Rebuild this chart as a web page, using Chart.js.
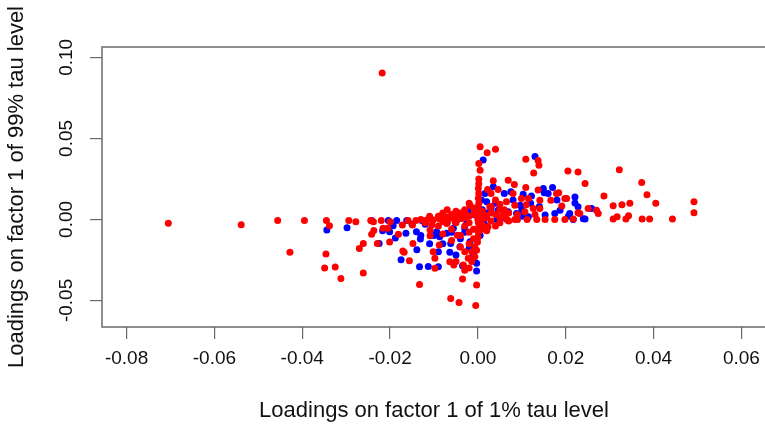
<!DOCTYPE html>
<html>
<head>
<meta charset="utf-8">
<script src="https://cdn.jsdelivr.net/npm/chart.js@4"></script>
<style>
  html, body { margin: 0; padding: 0; background: #fff; overflow: hidden; }
  #wrap { width: 770px; height: 425px; }
</style>
</head>
<body>
<div id="wrap"><canvas id="chart" width="770" height="425"></canvas></div>
<script>
// loadings: [1% tau level, 99% tau level]
const redPoints = [
  [-0.0218, 0.0904], [-0.0705, -0.0023], [-0.0539, -0.0033], [-0.0456, -0.0006],
  [-0.0395, -0.0006], [-0.0345, -0.0006], [-0.0338, -0.0039], [-0.0428, -0.0202],
  [-0.0346, -0.0214], [-0.0349, -0.0300], [-0.0325, -0.0294], [-0.0312, -0.0365],
  [-0.0261, -0.0331], [-0.0294, -0.0006], [-0.0278, -0.0015], [-0.0244, -0.0006],
  [-0.0238, -0.0015], [-0.0220, -0.0006], [-0.0200, -0.0015], [-0.0237, -0.0069],
  [-0.0242, -0.0092], [-0.0261, -0.0149], [-0.0270, -0.0180], [-0.0229, -0.0149],
  [-0.0201, -0.0140], [-0.0216, -0.0054], [-0.0205, -0.0055], [-0.0181, -0.0091],
  [-0.0172, -0.0035], [-0.0168, -0.0202], [-0.0156, -0.0255], [-0.0148, -0.0148],
  [-0.0133, -0.0401], [-0.0159, -0.0006], [-0.0149, -0.0035], [-0.0141, -0.0006],
  [-0.0171, -0.0195], [-0.0117, -0.0004], [-0.0102, -0.0004], [-0.0087, 0.0002],
  [-0.0071, -0.0025], [-0.0052, -0.0015], [-0.0037, 0.0006], [-0.0026, 0.0027],
  [-0.0018, 0.0088], [-0.0109, -0.0101], [-0.0102, -0.0200], [-0.0098, -0.0240],
  [-0.0088, -0.0158], [-0.0098, -0.0302], [-0.0064, -0.0261], [-0.0055, -0.0282],
  [-0.0033, -0.0282], [-0.0022, -0.0240], [-0.0030, -0.0313], [-0.0035, -0.0368],
  [-0.0003, -0.0405], [-0.0062, -0.0488], [-0.0043, -0.0513], [-0.0005, -0.0531],
  [-0.0014, -0.0200], [-0.0007, -0.0169], [-0.0047, -0.0097], [-0.0109, -0.0066],
  [-0.0105, -0.0035], [-0.0079, -0.0015], [-0.0003, -0.0190], [-0.0007, -0.0230],
  [-0.0014, -0.0260], [-0.0020, -0.0300],
  [0.0005, 0.0448], [0.0021, 0.0411], [0.0040, 0.0433], [0.0002, 0.0345],
  [0.0005, 0.0304], [0.0109, 0.0372], [0.0137, 0.0363], [0.0139, 0.0335],
  [0.0127, 0.0287], [0.0205, 0.0298], [0.0228, 0.0292], [0.0244, 0.0222],
  [0.0287, 0.0144], [0.0322, 0.0306], [0.0373, 0.0228], [0.0385, 0.0152],
  [0.0405, 0.0099], [0.0308, 0.0084], [0.0328, 0.0090], [0.0346, 0.0099],
  [0.0492, 0.0109], [0.0492, 0.0041], [0.0443, 0.0002], [0.0391, 0.0002],
  [0.0374, 0.0002], [0.0343, 0.0022], [0.0337, 0.0002], [0.0317, 0.0016],
  [0.0308, 0.0002], [0.0274, 0.0037], [0.0251, 0.0068], [0.0232, 0.0037],
  [0.0217, 0.0002], [0.0202, 0.0129], [0.0179, 0.0160], [0.0035, 0.0238],
  [0.0069, 0.0242], [0.0083, 0.0216], [0.0109, 0.0197], [0.0046, 0.0185],
  [0.0022, 0.0185], [0.0137, 0.0181], [0.0184, 0.0164], [0.0166, 0.0119],
  [0.0141, 0.0119], [0.0099, 0.0129], [0.0115, 0.0129], [0.0065, 0.0109],
  [0.0050, 0.0094], [0.0084, 0.0088], [0.0126, 0.0068], [0.0141, 0.0068],
  [0.0107, 0.0047], [0.0060, 0.0047], [0.0027, 0.0078], [0.0191, 0.0082],
  [0.0198, 0.0129], [0.0228, 0.0041], [0.0270, 0.0057], [0.0153, 0.0000],
  [0.0175, 0.0000], [0.0198, 0.0000], [0.0134, 0.0000], [0.0084, 0.0000],
  [0.0050, 0.0016], [-0.0020, 0.0099], [0.0016, 0.0027], [0.0023, -0.0046],
  [0.0112, 0.0000], [0.0066, 0.0000],
  [0.0002, 0.0250], [0.0002, 0.0220], [0.0001, 0.0190], [0.0002, 0.0160],
  [0.0001, 0.0130], [0.0002, 0.0100], [0.0001, 0.0080], [0.0002, 0.0060],
  [0.0001, 0.0040], [0.0002, 0.0020], [0.0001, -0.0020], [0.0002, -0.0050],
  [0.0001, -0.0080], [0.0000, -0.0110], [-0.0001, -0.0140],
  [-0.0050, -0.0020], [-0.0040, 0.0010], [-0.0030, -0.0040], [-0.0020, 0.0020],
  [-0.0010, -0.0060], [0.0010, -0.0030], [0.0020, 0.0010], [0.0030, -0.0010],
  [0.0040, 0.0030], [-0.0060, 0.0030], [-0.0070, -0.0010], [0.0050, -0.0020],
  [-0.0020, -0.0080], [0.0010, 0.0050], [0.0020, -0.0070], [-0.0040, -0.0100],
  [-0.0010, -0.0120], [0.0030, 0.0040], [-0.0080, 0.0020], [-0.0090, -0.0040],
  [0.0060, 0.0020], [0.0070, 0.0040], [-0.0050, 0.0050], [-0.0030, 0.0060],
  [-0.0060, -0.0060], [0.0010, 0.0010], [-0.0010, 0.0030], [0.0040, -0.0040],
  [-0.0080, 0.0040], [-0.0060, 0.0010], [-0.0040, 0.0040], [-0.0020, -0.0020],
  [0.0000, 0.0000], [-0.0030, 0.0020], [0.0010, -0.0060], [-0.0010, 0.0070],
  [0.0030, 0.0080], [0.0050, 0.0060], [-0.0070, 0.0060], [-0.0090, 0.0020],
  [-0.0110, 0.0020], [-0.0120, -0.0020], [-0.0060, -0.0130], [-0.0080, -0.0090],
  [-0.0020, -0.0150], [-0.0030, -0.0200], [-0.0040, -0.0170], [-0.0050, -0.0260],
  [-0.0130, 0.0000], [-0.0110, 0.0008], [-0.0090, 0.0010], [-0.0070, 0.0015],
  [-0.0050, 0.0020], [-0.0030, 0.0010], [0.0060, 0.0060], [0.0090, 0.0030],
  [0.0110, 0.0090], [0.0130, 0.0030], [0.0040, 0.0120], [0.0080, 0.0160],
  [0.0030, 0.0160], [0.0050, 0.0010], [0.0070, -0.0010], [0.0090, 0.0000]
];

const bluePoints = [
  [-0.0344, -0.0066], [-0.0298, -0.0052], [-0.0242, -0.0006], [-0.0204, -0.0006],
  [-0.0185, -0.0006], [-0.0162, -0.0006], [-0.0128, -0.0006], [-0.0217, -0.0070],
  [-0.0201, -0.0076], [-0.0193, -0.0039], [-0.0225, -0.0148], [-0.0188, -0.0115],
  [-0.0164, -0.0086], [-0.0131, -0.0121], [-0.0139, -0.0187], [-0.0175, -0.0249],
  [-0.0133, -0.0292], [-0.0113, -0.0290], [-0.0090, -0.0292], [-0.0140, -0.0076],
  [-0.0035, -0.0286], [-0.0003, -0.0271], [-0.0003, -0.0319], [-0.0062, -0.0148],
  [-0.0064, -0.0203], [-0.0041, -0.0169], [-0.0018, -0.0138], [-0.0087, -0.0107],
  [-0.0071, -0.0086], [-0.0048, -0.0004], [-0.0022, 0.0057], [-0.0007, 0.0027],
  [-0.0030, -0.0055], [-0.0056, -0.0055], [-0.0094, -0.0076],
  [0.0012, 0.0366], [0.0130, 0.0388], [0.0035, 0.0201], [0.0060, 0.0160],
  [0.0075, 0.0170], [0.0103, 0.0156], [0.0122, 0.0144], [0.0149, 0.0191],
  [0.0151, 0.0164], [0.0170, 0.0197], [0.0221, 0.0139], [0.0221, 0.0102],
  [0.0228, 0.0078], [0.0187, 0.0057], [0.0175, 0.0037], [0.0206, 0.0020],
  [0.0217, 0.0000], [0.0240, 0.0004], [0.0259, 0.0068], [0.0088, 0.0037],
  [0.0069, 0.0047], [0.0046, 0.0057], [0.0020, 0.0109], [0.0016, 0.0160],
  [0.0096, 0.0088], [0.0115, 0.0016], [0.0153, 0.0027], [0.0043, 0.0000],
  [0.0244, 0.0002], [0.0209, 0.0037],
  [0.0008, 0.0120], [0.0010, 0.0060], [-0.0010, 0.0030], [0.0015, -0.0030],
  [-0.0025, -0.0020], [0.0030, 0.0070], [0.0005, -0.0100], [-0.0040, 0.0010],
  [0.0060, 0.0010], [0.0100, 0.0060],
  [-0.0120, -0.0030], [-0.0100, -0.0100], [-0.0080, -0.0150], [-0.0060, -0.0080],
  [-0.0040, -0.0120], [-0.0020, -0.0180], [-0.0090, -0.0200], [-0.0050, -0.0220],
  [-0.0110, -0.0150], [-0.0030, -0.0080], [-0.0010, -0.0220], [-0.0070, -0.0020],
  [-0.0150, -0.0030], [-0.0130, -0.0100], [0.0040, 0.0100], [0.0080, 0.0120],
  [0.0120, 0.0100], [0.0060, 0.0030], [0.0140, 0.0080], [0.0180, 0.0120],
  [0.0100, 0.0020], [0.0020, 0.0040], [0.0160, 0.0160]
];

const xTicks = [-0.08, -0.06, -0.04, -0.02, 0.00, 0.02, 0.04, 0.06];
const yTicks = [-0.05, 0.00, 0.05, 0.10];
const xTitle = 'Loadings on factor 1 of 1% tau level';
const yTitle = 'Loadings on factor 1 of 99% tau level';

const FONT = "'Liberation Sans', Arial, Helvetica, sans-serif";
const AXIS_COLOR = '#6a6a6a';

const toXY = pts => pts.map(p => ({ x: p[0], y: p[1] }));

// R-style frame around the plotting region
const boxPlugin = {
  id: 'box',
  afterDraw(chart) {
    const { ctx, chartArea } = chart;
    ctx.save();
    ctx.strokeStyle = AXIS_COLOR;
    ctx.lineWidth = 1.5;
    ctx.strokeRect(chartArea.left, chartArea.top,
      chartArea.right - chartArea.left, chartArea.bottom - chartArea.top);
    ctx.restore();
  }
};

new Chart(document.getElementById('chart'), {
  type: 'scatter',
  data: {
    datasets: [
      { data: toXY(redPoints), backgroundColor: '#ff0000', pointRadius: 3.5, borderWidth: 0 },
      { data: toXY(bluePoints), backgroundColor: '#0000ff', pointRadius: 3.5, borderWidth: 0 }
    ]
  },
  options: {
    responsive: false,
    animation: false,
    devicePixelRatio: 1,
    layout: { padding: { top: 47, right: 3, left: 0, bottom: 0 } },
    plugins: { legend: { display: false }, tooltip: { enabled: false } },
    scales: {
      x: {
        type: 'linear',
        min: -0.0856,
        max: 0.0656,
        afterBuildTicks: s => { s.ticks = xTicks.map(v => ({ value: v })); },
        afterFit: s => { s.height = 98; },
        grid: { drawOnChartArea: false, drawTicks: true, tickLength: 12, color: AXIS_COLOR, lineWidth: 1.2 },
        border: { display: false },
        ticks: {
          autoSkip: false,
          maxRotation: 0,
          padding: 8,
          color: '#111',
          font: { family: FONT, size: 19 },
          callback: v => v.toFixed(2)
        },
        title: {
          display: true,
          text: xTitle,
          color: '#111',
          font: { family: FONT, size: 22 },
          padding: { top: 0, bottom: 1 }
        }
      },
      y: {
        type: 'linear',
        min: -0.0664,
        max: 0.1064,
        afterBuildTicks: s => { s.ticks = yTicks.map(v => ({ value: v })); },
        afterFit: s => { s.width = 102; },
        grid: { drawOnChartArea: false, drawTicks: true, tickLength: 12, color: AXIS_COLOR, lineWidth: 1.2 },
        border: { display: false },
        ticks: {
          autoSkip: false,
          minRotation: 90,
          maxRotation: 90,
          crossAlign: 'center',
          padding: 2,
          color: '#111',
          font: { family: FONT, size: 19 },
          callback: v => v.toFixed(2)
        },
        title: {
          display: true,
          text: yTitle,
          color: '#111',
          font: { family: FONT, size: 22 },
          padding: { top: 4, bottom: 0 }
        }
      }
    }
  },
  plugins: [boxPlugin]
});
</script>
</body>
</html>
